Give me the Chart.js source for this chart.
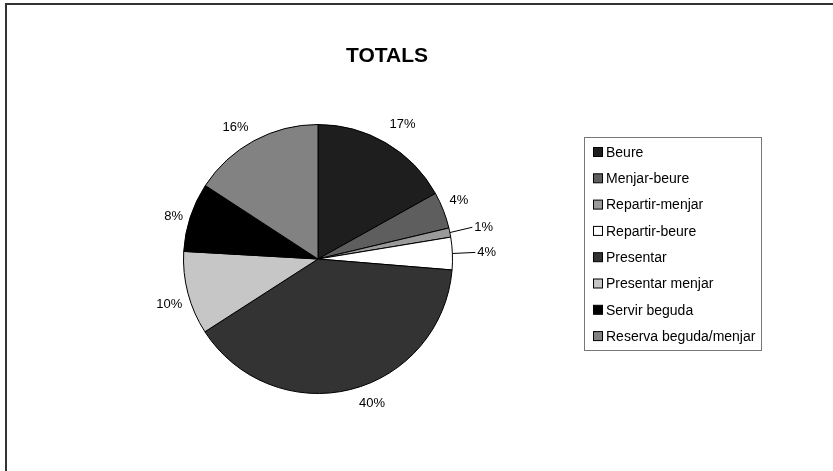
<!DOCTYPE html>
<html>
<head>
<meta charset="utf-8">
<script src="https://cdn.jsdelivr.net/npm/chart.js@4"></script>
<style>
  html, body { margin: 0; padding: 0; background: #fff; overflow: hidden; }
  #frame { position: absolute; left: 5px; top: 3px; width: 900px; height: 520px; border-top: 2px solid #333; border-left: 2px solid #333; }
  #myChart { position: absolute; left: 0; top: 0; }
</style>
</head>
<body>
<div id="frame"></div>
<canvas id="myChart" width="833" height="471"></canvas>
<script>
'use strict';

// slice names and shares (percent of total)
var categories = ['Beure', 'Menjar-beure', 'Repartir-menjar', 'Repartir-beure', 'Presentar', 'Presentar menjar', 'Servir beguda', 'Reserva beguda/menjar'];
var values = [16.9, 4.4, 1.1, 3.9, 39.6, 10.0, 8.3, 15.8];
var sliceColors = ['#1e1e1e', '#5e5e5e', '#9a9a9a', '#ffffff', '#333333', '#c6c6c6', '#000000', '#828282'];
var chartTitle = 'TOTALS';

var FONT = '"Liberation Sans", Arial, sans-serif';

// label placement tweaks (degrees turned, pixels past the edge), like excel's best fit
var labelTurn = [1.8, -1.3, 0, 0, -6.4, -2.2, -1.6, -3.6];
var labelGap = [24, 18, 27, 27, 20, 21, 16, 21];

// percent labels around the pie, small slices get a leader line
var pctLabels = {
  id: 'pctLabels',
  afterDatasetsDraw: function (chart) {
    var ctx = chart.ctx;
    var meta = chart.getDatasetMeta(0);
    var total = values.reduce(function (a, b) { return a + b; }, 0);
    ctx.save();
    ctx.font = '13px ' + FONT;
    ctx.fillStyle = '#000';
    ctx.textBaseline = 'middle';
    meta.data.forEach(function (arc, i) {
      var mid = (arc.startAngle + arc.endAngle) / 2;
      var r = arc.outerRadius;
      var txt = Math.round(values[i] / total * 100) + '%';
      if (values[i] < 4) {
        var ex = arc.x + Math.cos(mid) * r, ey = arc.y + Math.sin(mid) * r;
        var lx = arc.x + Math.cos(mid) * (r + labelGap[i]), ly = arc.y + Math.sin(mid) * (r + labelGap[i]);
        ctx.strokeStyle = '#000';
        ctx.lineWidth = 1;
        ctx.beginPath();
        ctx.moveTo(ex, ey);
        ctx.lineTo(lx - 4, ly);
        ctx.stroke();
        ctx.textAlign = 'left';
        ctx.fillText(txt, lx - 2, ly);
      } else {
        var a = mid + labelTurn[i] * Math.PI / 180;
        ctx.textAlign = 'center';
        ctx.fillText(txt, arc.x + Math.cos(a) * (r + labelGap[i]), arc.y + Math.sin(a) * (r + labelGap[i]));
      }
    });
    ctx.restore();
  }
};

// title and boxed legend on the right
var extras = {
  id: 'extras',
  afterDraw: function (chart) {
    var ctx = chart.ctx;
    ctx.save();
    ctx.font = 'bold 21px ' + FONT;
    ctx.fillStyle = '#000';
    ctx.textAlign = 'center';
    ctx.textBaseline = 'middle';
    ctx.fillText(chartTitle, 387, 56);

    ctx.strokeStyle = '#777';
    ctx.lineWidth = 1;
    ctx.strokeRect(584.5, 137.5, 177, 213);
    ctx.font = '14px ' + FONT;
    ctx.textAlign = 'left';
    for (var i = 0; i < categories.length; i++) {
      var y = 152 + i * 26.3;
      ctx.fillStyle = sliceColors[i];
      ctx.fillRect(593.5, y - 4.5, 9, 9);
      ctx.strokeStyle = '#000';
      ctx.strokeRect(593.5, y - 4.5, 9, 9);
      ctx.fillStyle = '#000';
      ctx.fillText(categories[i], 606, y + 1);
    }
    ctx.restore();
  }
};

var ctx = document.getElementById('myChart').getContext('2d');
var myChart = new Chart(ctx, {
  type: 'pie',
  data: {
    labels: categories,
    datasets: [{
      data: values,
      backgroundColor: sliceColors,
      borderColor: '#000',
      borderWidth: 1
    }]
  },
  options: {
    responsive: false,
    animation: false,
    layout: { padding: { left: 183, right: 380, top: 124, bottom: 77 } },
    plugins: {
      legend: { display: false },
      tooltip: { enabled: false }
    }
  },
  plugins: [pctLabels, extras]
});
</script>
</body>
</html>
